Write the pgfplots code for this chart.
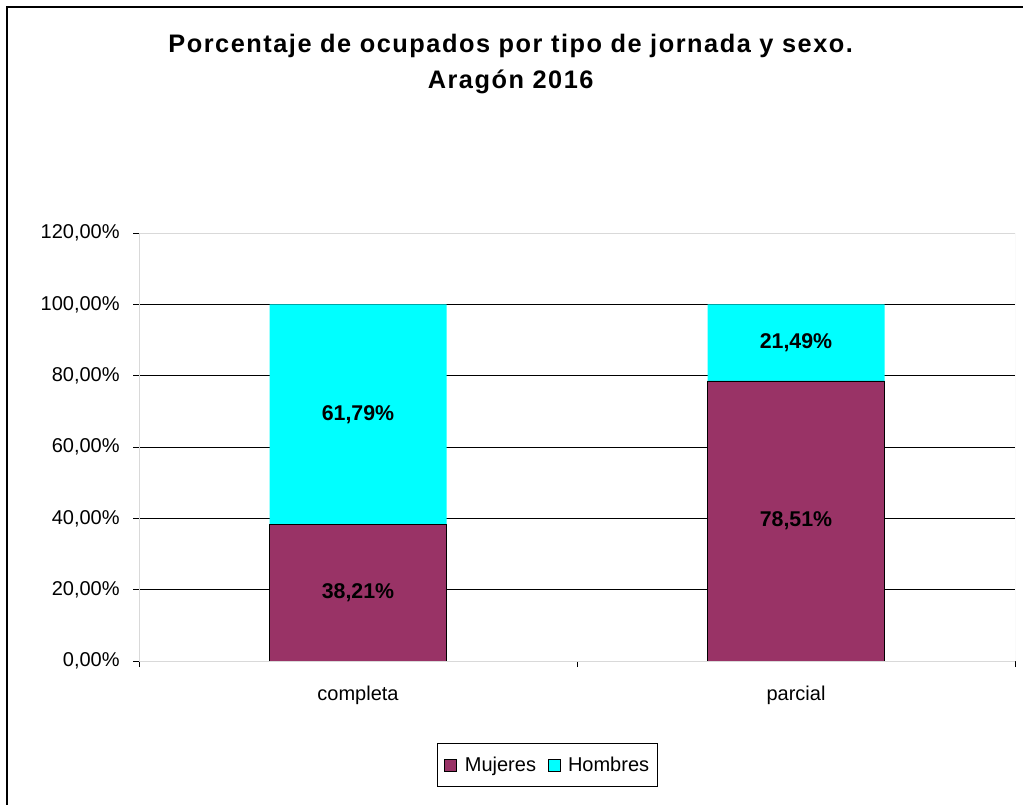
\documentclass[border=0pt]{standalone}
\usepackage{pgfplots}
\pgfplotsset{compat=1.18}
\usepackage{fontspec}
\setmainfont{Liberation Sans}
\newfontfamily\titlefont{Liberation Sans}[LetterSpace=6]
\definecolor{muj}{HTML}{993366}
\definecolor{hom}{HTML}{00FFFF}
\newcommand{\fs}[1]{\fontsize{#1}{#1}\selectfont}
\begin{document}
\begin{tikzpicture}
\useasboundingbox (0,0) rectangle (767.25pt,-603.75pt);
\draw[line width=1.1pt] (5.25pt,-603.75pt) -- (5.25pt,-5.25pt) -- (767.25pt,-5.25pt);
\node[anchor=base, font=\titlefont\bfseries\fs{19pt}] at (383pt,-39.75pt) {Porcentaje de ocupados por tipo de jornada y sexo.};
\node[anchor=base, font=\titlefont\bfseries\fs{19pt}] at (383pt,-66.75pt) {Aragón 2016};
\begin{axis}[
  at={(104.25pt,-495.75pt)}, anchor=south west,
  scale only axis, width=657pt, height=321pt,
  ybar stacked, bar width=132.75pt,
  xmin=-0.5, xmax=1.5, ymin=0, ymax=120,
  axis x line*=bottom, axis y line*=left,
  axis line style={black, line width=0.7pt},
  ytick={0,20,40,60,80,100},
  yticklabel={\pgfmathprintnumber[assume math mode=true, fixed, fixed zerofill, precision=2, use comma]{\tick}\%},
  extra y ticks={120},
  extra y tick style={grid=none},
  ymajorgrids, grid style={black, line width=0.6pt},
  tick align=outside, major tick length=4.5pt,
  tick style={black, line width=0.6pt},
  xtick={-0.5,0.5,1.5}, xticklabels={},
  extra x ticks={0,1}, extra x tick labels={completa,parcial},
  extra x tick style={major tick length=0pt},
  ticklabel style={font=\fs{15pt}},
  xticklabel style={yshift=-15.5pt},
  yticklabel style={xshift=-6.5pt},
  legend style={at={(0.466,-0.243)}, anchor=center, legend columns=2,
    draw=black, line width=0.6pt, font=\fs{15pt}, inner xsep=4pt, inner ysep=8pt,
    /tikz/every even column/.append style={column sep=6pt}},
  legend image code/.code={\draw[#1] (0pt,-4.5pt) rectangle (9pt,4.5pt); \path (-1pt,0pt) (13pt,0pt);},
]
\draw[gray!30, line width=0.6pt] (rel axis cs:0,0) rectangle (rel axis cs:1,1);
\addplot[fill=muj, draw=black, line width=0.7pt] coordinates {(0,38.21) (1,78.51)};
\addplot[fill=hom, draw=none] coordinates {(0,61.79) (1,21.49)};
\legend{Mujeres, Hombres}
\end{axis}
\begin{axis}[
  at={(104.25pt,-495.75pt)}, anchor=south west,
  scale only axis, width=657pt, height=321pt,
  xmin=-0.5, xmax=1.5, ymin=0, ymax=120, hide axis,
]
\addplot[draw=none, mark=none, nodes near coords, point meta=explicit symbolic,
  nodes near coords align={center},
  every node near coord/.append style={font=\bfseries\fs{16pt}, anchor=center}]
  coordinates {(0,19.105) [38,21\%] (0,69.105) [61,79\%] (1,39.255) [78,51\%] (1,89.255) [21,49\%]};
\end{axis}
\end{tikzpicture}
\end{document}
